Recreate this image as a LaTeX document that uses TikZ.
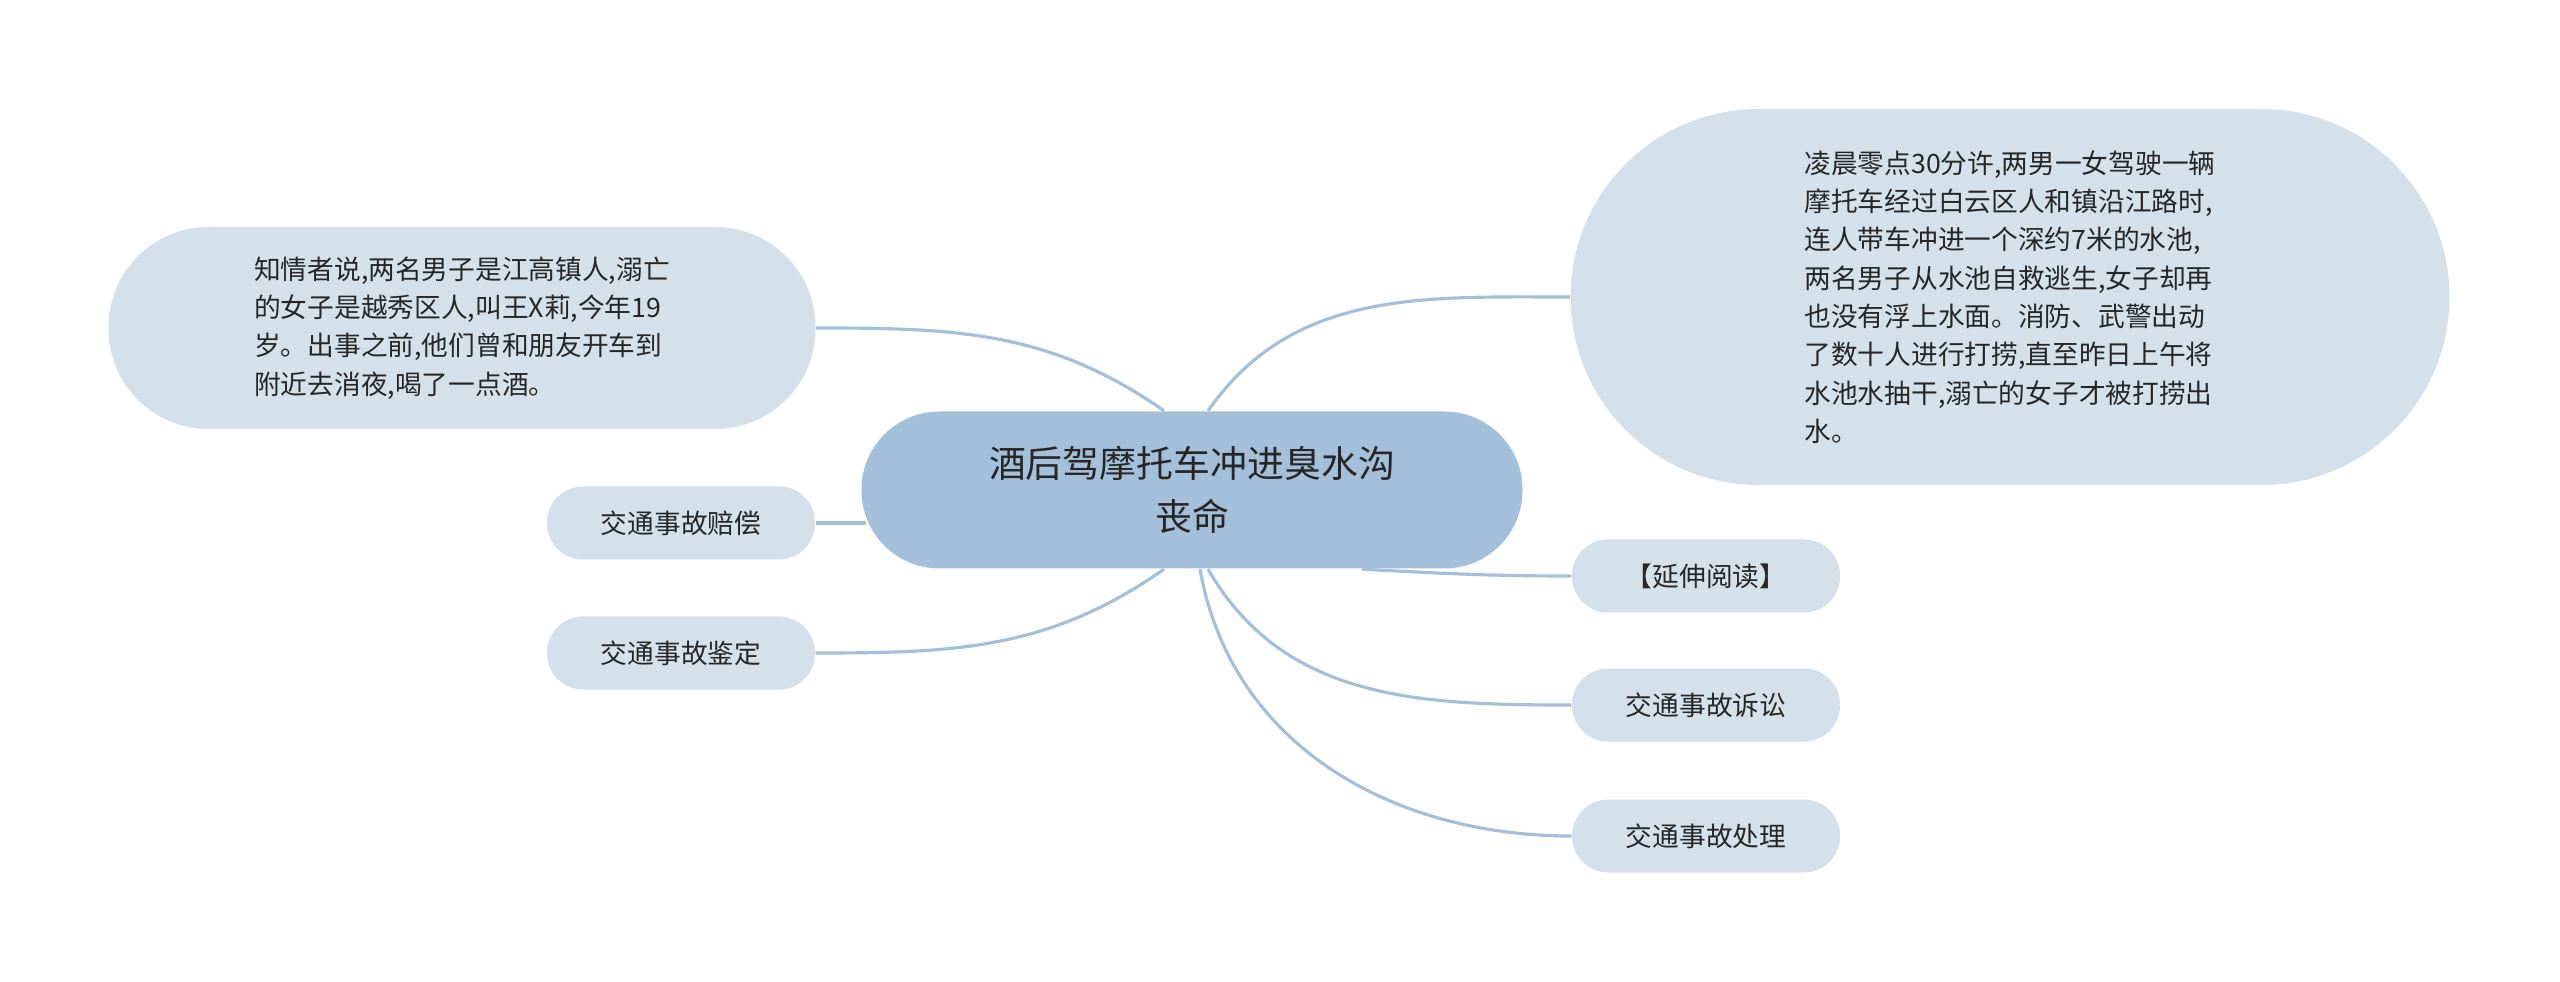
\documentclass[tikz,border=0pt]{standalone}
\usepackage{fontspec}
\setmainfont{Noto Sans CJK SC}
\definecolor{rootfill}{HTML}{A3BFDA}
\definecolor{leaffill}{HTML}{D4E0EA}
\definecolor{linkcol}{HTML}{A3BFDA}
\tikzset{
  rootbox/.style={draw=none, fill=rootfill, rounded corners=0.78cm, minimum width=6.61cm, minimum height=1.57cm, align=center, font=\fontsize{10.5}{15}\selectfont, text=black!85},
  bigleaf/.style={draw=none, fill=leaffill, align=left, font=\fontsize{7.6}{10.9}\selectfont, text=black!85},
  leaf/.style={draw=none, fill=leaffill, rounded corners=0.36cm, minimum width=2.68cm, minimum height=0.73cm, font=\fontsize{7.6}{10}\selectfont, text=black!85},
  link/.style={draw=linkcol, line width=0.9pt}
}
\begin{document}
\begin{tikzpicture}
	% page frame
	\useasboundingbox (0,0) rectangle (25.6,9.81);

	% central topic
	\node[rootbox] (root) at (11.92,4.91) {酒后驾摩托车冲进臭水沟\\丧命};

	% left side
	\node[bigleaf, rounded corners=1cm, minimum width=7.07cm, minimum height=2.02cm] (witness) at (4.62,6.53)
		{知情者说,两名男子是江高镇人,溺亡\\的女子是越秀区人,叫王X莉,今年19\\岁。出事之前,他们曾和朋友开车到\\附近去消夜,喝了一点酒。};
	\node[leaf] (comp) at (6.81,4.58) {交通事故赔偿};
	\node[leaf] (ident) at (6.81,3.28) {交通事故鉴定};

	% right side
	\node[bigleaf, rounded corners=1.88cm, minimum width=8.79cm, minimum height=3.76cm] (event) at (20.10,6.84)
		{凌晨零点30分许,两男一女驾驶一辆\\摩托车经过白云区人和镇沿江路时,\\连人带车冲进一个深约7米的水池,\\两名男子从水池自救逃生,女子却再\\也没有浮上水面。消防、武警出动\\了数十人进行打捞,直至昨日上午将\\水池水抽干,溺亡的女子才被打捞出\\水。};
	\node[leaf] (more) at (17.06,4.05) {【延伸阅读】};
	\node[leaf] (suit) at (17.06,2.76) {交通事故诉讼};
	\node[leaf] (handle) at (17.06,1.45) {交通事故处理};

	% connectors
	\draw[link] ([xshift=-0.28cm]root.north) to[out=145,in=0] (witness.east);
	\draw[link] ([xshift=0.05cm,yshift=-0.33cm]root.west) -- (comp.east);
	\draw[link] ([xshift=-0.28cm]root.south) to[out=-145,in=0] (ident.east);
	\draw[link] ([xshift=0.16cm]root.north) to[out=55,in=180] (event.west);
	\draw[link] ([xshift=1.7cm]root.south) to[out=-3,in=180] (more.west);
	\draw[link] ([xshift=0.16cm]root.south) to[out=-60,in=180] (suit.west);
	\draw[link] ([xshift=0.08cm]root.south) to[out=-80,in=180] (handle.west);
\end{tikzpicture}
\end{document}
